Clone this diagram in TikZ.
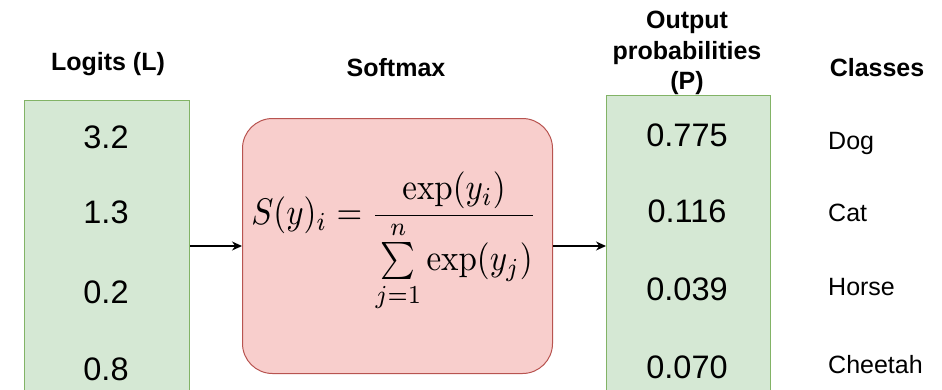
\documentclass[tikz,border=0pt]{standalone}
\usepackage{amsmath}
\usepackage{graphicx}
\usepackage[no-math]{fontspec}
\setmainfont{Liberation Sans}
\usetikzlibrary{arrows.meta}
\definecolor{gfill}{HTML}{D5E8D4}
\definecolor{gdraw}{HTML}{82B366}
\definecolor{rfill}{HTML}{F8CECC}
\definecolor{rdraw}{HTML}{B85450}
\tikzset{
  head/.style={font=\fontsize{25}{30.5}\selectfont\bfseries, align=center, inner sep=0pt},
  num/.style={font=\fontsize{32.5}{36}\selectfont, inner sep=0pt},
  cls/.style={font=\fontsize{25}{28}\selectfont, inner sep=0pt, anchor=base west},
  col/.style={fill=gfill, draw=gdraw, line width=1pt, inner sep=0pt},
  arr/.style={-{Stealth[length=10pt,width=9pt]}, line width=1.3pt}
}
\begin{document}
\begin{tikzpicture}[x=1pt,y=-1pt]
\clip (0,0) rectangle (942,389);
\fill[white] (0,0) rectangle (942,389);
% boxes
\node[col, minimum width=165pt, minimum height=300pt, anchor=north west] (L) at (24,100) {};
\node[col, minimum width=164pt, minimum height=305pt, anchor=north west] (P) at (606,95) {};
\node[fill=rfill, draw=rdraw, line width=1pt, rounded corners=30pt, minimum width=310pt, minimum height=255pt, anchor=north west] (S) at (242,118) {};
% formula
\node[inner sep=0pt] (F) at (394,242) {\scalebox{3.3}[3.7]{$\displaystyle S(y)_i = \frac{\exp(y_i)}{\sum\limits_{j=1}^{n}\exp(y_j)}$}};
% headings
\node[head] (hL) at (108,64) {Logits (L)};
\node[head] (hS) at (396,68) {Softmax};
\node[head] (hP) at (687,53) {Output\\probabilities\\(P)};
\node[head] (hC) at (877,68) {Classes};
% numbers
\node[num] (l1) at (106,137) {3.2};
\node[num] (l2) at (106,212) {1.3};
\node[num] (l3) at (106,292) {0.2};
\node[num] (l4) at (106,369) {0.8};
\node[num] (p1) at (687,135) {0.775};
\node[num] (p2) at (687,211) {0.116};
\node[num] (p3) at (687,289) {0.039};
\node[num] (p4) at (687,367) {0.070};
% classes
\node[cls] (c1) at (828,149) {Dog};
\node[cls] (c2) at (828,221) {Cat};
\node[cls] (c3) at (828,295) {Horse};
\node[cls] (c4) at (828,373) {Cheetah};
% arrows
\coordinate (a1) at (L.east |- 0,246);
\coordinate (a2) at (S.west |- 0,246);
\coordinate (a3) at (S.east |- 0,246);
\coordinate (a4) at (P.west |- 0,246);
\draw[arr] (a1) -- (a2);
\draw[arr] (a3) -- (a4);
\end{tikzpicture}
\end{document}
